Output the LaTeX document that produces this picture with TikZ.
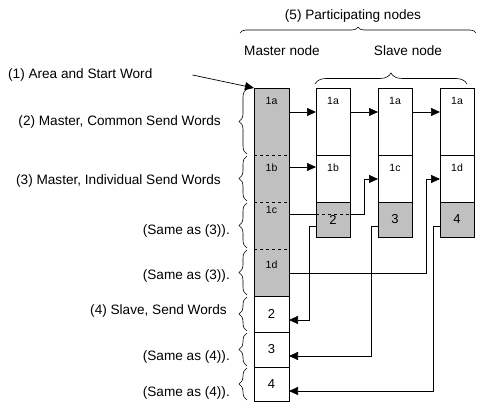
\documentclass[tikz,border=0pt]{standalone}
\usepackage{fontspec}
\setmainfont{Liberation Sans}
\usetikzlibrary{arrows.meta, positioning, decorations.pathreplacing}

\definecolor{cellgray}{RGB}{192,192,192}

\begin{document}
\begin{tikzpicture}[x=1pt, y=-1pt,
    cell/.style={draw, line width=0.8pt, minimum width=34pt, inner sep=0pt, outer sep=0pt, font=\fontsize{13}{15}\selectfont},
    mcell/.style={cell, minimum width=35pt},
    mgray/.style={mcell, draw=none, fill=cellgray},
    gcell/.style={fill=cellgray},
    tag/.style={anchor=north, inner sep=0pt, yshift=-9pt, font=\fontsize{10.5}{12}\selectfont},
    wire/.style={line width=0.7pt},
    arr/.style={wire, -{Triangle[length=9pt, width=8pt]}},
    brc/.style={decorate, decoration={brace, amplitude=8pt}, line width=0.6pt},
    txt/.style={font=\fontsize{13.6}{16}\selectfont, inner sep=0pt}]
    \useasboundingbox (0,0) rectangle (477,403);

    % master node: one column of words
    \node[mgray, minimum height=67pt, anchor=north west, label={[tag]north:1a}] (m1a) at (254,88) {};
    \node[mgray, minimum height=47pt, below=0pt of m1a, label={[tag]north:1b}] (m1b) {};
    \node[mgray, minimum height=47pt, below=0pt of m1b, label={[tag, yshift=5pt]north:1c}] (m1c) {};
    \node[mgray, minimum height=47pt, below=0pt of m1c, label={[tag, yshift=-3pt]north:1d}] (m1d) {};
    \draw[line width=0.8pt] (m1a.north west) rectangle (m1d.south east);
    \foreach \c in {m1b, m1c, m1d}
        \draw[wire, dashed] (\c.north west) -- (\c.north east);
    \node[mcell, minimum height=36pt, below=0pt of m1d] (m2) {2};
    \node[mcell, minimum height=35pt, below=0pt of m2] (m3) {3};
    \node[mcell, minimum height=34pt, below=0pt of m3] (m4) {4};

    % slave nodes
    \node[cell, minimum height=67pt, anchor=north west, label={[tag]north:1a}] (s1a) at (316,88) {};
    \node[cell, minimum height=47pt, below=0pt of s1a, label={[tag]north:1b}] (s1b) {};
    \node[cell, gcell, minimum height=35pt, below=0pt of s1b] (s1c) {2};
    \node[cell, minimum height=67pt, anchor=north west, label={[tag]north:1a}] (s2a) at (378,88) {};
    \node[cell, minimum height=47pt, below=0pt of s2a, label={[tag]north:1c}] (s2b) {};
    \node[cell, gcell, minimum height=35pt, below=0pt of s2b] (s2c) {3};
    \node[cell, minimum height=67pt, anchor=north west, label={[tag]north:1a}] (s3a) at (440,88) {};
    \node[cell, minimum height=47pt, below=0pt of s3a, label={[tag]north:1d}] (s3b) {};
    \node[cell, gcell, minimum height=35pt, below=0pt of s3b] (s3c) {4};

    % sends
    \draw[arr] ([yshift=-24pt]m1a.north east) -- ([yshift=-24pt]s1a.north west);
    \draw[arr] ([yshift=-24pt]s1a.north east) -- ([yshift=-24pt]s2a.north west);
    \draw[arr] ([yshift=-24pt]s2a.north east) -- ([yshift=-24pt]s3a.north west);
    \draw[arr] ([yshift=-12pt]m1b.north east) -- ([yshift=-12pt]s1b.north west);
    \coordinate (c1) at ([yshift=-12pt]m1c.north east);
    \draw[wire] (c1) -- (c1 -| s1c.west);
    \draw[wire, dashed] (c1 -| s1c.west) -- (c1 -| s1c.east);
    \draw[arr] (c1 -| s1c.east) -| ([xshift=-14pt, yshift=-24pt]s2b.north west) -- ([yshift=-24pt]s2b.north west);
    \coordinate (d1) at ([yshift=-24pt]m1d.north east);
    \draw[arr] (d1) -| ([xshift=-14pt, yshift=-24pt]s3b.north west) -- ([yshift=-24pt]s3b.north west);
    \draw[arr] ([yshift=-24pt]s1c.north west) -- ++(-7,0) |- ([yshift=-24pt]m2.north east);
    \draw[arr] ([yshift=-24pt]s2c.north west) -- ++(-7,0) |- ([yshift=-24pt]m3.north east);
    \draw[arr] ([yshift=-24pt]s3c.north west) -- ++(-7,0) |- ([yshift=-24pt]m4.north east);

    % braces and labels on the left
    \foreach \c in {m1a, m1b, m1c, m1d, m2, m3, m4}
        \draw[brc] ([xshift=-7pt, yshift=1pt]\c.south west) -- ([xshift=-7pt, yshift=-1pt]\c.north west);
    \node[txt, anchor=west] (l1) at (8,75) {(1) Area and Start Word};
    \draw[arr] ([xshift=40pt]l1.east) -- (m1a.north west);
    \node[txt, anchor=east] (l2) at ([xshift=-33pt]m1a.west) {(2) Master, Common Send Words};
    \node[txt, anchor=east] (l3) at ([xshift=-33pt, yshift=-2pt]m1b.west) {(3) Master, Individual Send Words};
    \node[txt, anchor=east] (l3c) at ([xshift=-24pt, yshift=-5pt]m1c.west) {(Same as (3)).};
    \node[txt, anchor=east] (l3d) at ([xshift=-24pt, yshift=-3pt]m1d.west) {(Same as (3)).};
    \node[txt, anchor=east] (l4) at ([xshift=-27pt, yshift=3pt]m2.west) {(4) Slave, Send Words};
    \node[txt, anchor=east] (l4b) at ([xshift=-24pt, yshift=-7pt]m3.west) {(Same as (4)).};
    \node[txt, anchor=east] (l4c) at ([xshift=-24pt, yshift=-9pt]m4.west) {(Same as (4)).};

    % top labels
    \node[txt] (l5) at (353,16) {(5) Participating nodes};
    \draw[brc, decoration={brace, amplitude=6pt}] (240,33) -- (476,33);
    \node[txt] (lm) at (282,51) {Master node};
    \node[txt] (ls) at (408,51) {Slave node};
    \draw[brc, decoration={brace, amplitude=11pt}] (315,84) -- (467,84);
\end{tikzpicture}
\end{document}
